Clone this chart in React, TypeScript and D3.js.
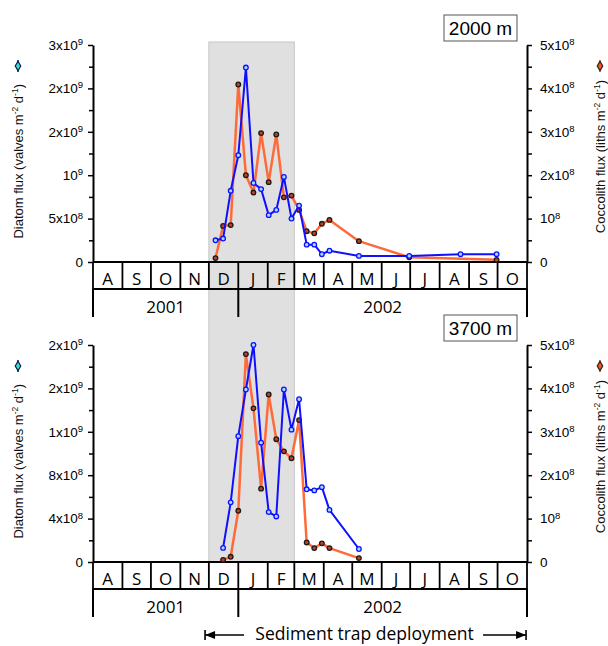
import React, { useEffect, useRef } from 'react';
import * as d3 from 'd3';

// month cells under each panel (Aug 2001 - Oct 2002)
const months = ['A', 'S', 'O', 'N', 'D', 'J', 'F', 'M', 'A', 'M', 'J', 'J', 'A', 'S', 'O'];
const years = ['2001', '2002'];

// 2000 m trap: diatoms (x10^9 valves m-2 d-1), coccoliths (x10^8 liths m-2 d-1)
const diatomDates2000 = [
  '2001-12-08', '2001-12-16', '2001-12-24', '2002-01-01', '2002-01-09', '2002-01-17', '2002-01-25',
  '2002-02-02', '2002-02-10', '2002-02-18', '2002-02-26', '2002-03-06', '2002-03-14', '2002-03-22',
  '2002-03-30', '2002-04-07', '2002-05-08', '2002-06-30', '2002-08-23', '2002-09-30',
];
const diatom2000 = [0.25, 0.27, 0.82, 1.23, 2.24, 0.91, 0.84, 0.54, 0.6, 0.98, 0.5, 0.65, 0.2, 0.2, 0.09, 0.13, 0.07, 0.07, 0.09, 0.09];
const coccoDates2000 = [
  '2001-12-08', '2001-12-16', '2001-12-24', '2002-01-01', '2002-01-09', '2002-01-17', '2002-01-25',
  '2002-02-02', '2002-02-10', '2002-02-18', '2002-02-26', '2002-03-06', '2002-03-14', '2002-03-22',
  '2002-03-30', '2002-04-07', '2002-05-08', '2002-06-30', '2002-09-30',
];
const cocco2000 = [0.09, 0.83, 0.85, 4.09, 2.0, 1.6, 2.97, 1.84, 2.94, 1.49, 1.53, 1.2, 0.71, 0.66, 0.88, 0.97, 0.48, 0.11, 0.05];

// 3700 m trap
const dates3700 = [
  '2001-12-16', '2001-12-24', '2002-01-01', '2002-01-09', '2002-01-17', '2002-01-25', '2002-02-02',
  '2002-02-10', '2002-02-18', '2002-02-26', '2002-03-06', '2002-03-14', '2002-03-22', '2002-03-30',
  '2002-04-07', '2002-05-08',
];
const diatom3700 = [0.13, 0.55, 1.16, 1.59, 2.0, 1.1, 0.46, 0.42, 1.59, 1.22, 1.5, 0.67, 0.66, 0.69, 0.48, 0.12];
const cocco3700 = [0.05, 0.12, 1.18, 4.79, 3.54, 1.69, 3.86, 2.83, 2.55, 2.39, 3.27, 0.45, 0.32, 0.43, 0.32, 0.09];

// axis ticks (same units as the series)
const leftTicks2000 = [0, 0.5, 1, 1.5, 2, 2.5];
const leftLabels2000 = ['0', '5x10^8', '10^9', '2x10^9', '2x10^9', '3x10^9'];
const leftTicks3700 = [0, 0.4, 0.8, 1.2, 1.6, 2.0];
const leftLabels3700 = ['0', '4x10^8', '8x10^8', '1x10^9', '2x10^9', '2x10^9'];
const rightTicks = [0, 1, 2, 3, 4, 5];
const rightLabels = ['0', '10^8', '2x10^8', '3x10^8', '4x10^8', '5x10^8'];

const shadeRange = ['2001-12-01', '2002-03-01'];
const deployRange = ['2001-11-27', '2002-10-31'];

const BLUE = '#1010ff';
const ORANGE = '#ff6a3a';
const AXIS_FONT = 'Liberation Sans, Arial, sans-serif';
const LABEL_FONT = 'Open Sans, sans-serif';

const App = () => {
  const ref = useRef<SVGSVGElement>(null);

  useEffect(() => {
    const svg = d3.select(ref.current);
    svg.selectAll('*').remove();

    const parse = d3.timeParse('%Y-%m-%d');
    const X0 = 93;
    const X1 = 527;
    const x = d3.scaleTime()
      .domain([parse('2001-08-01')!, parse('2002-11-01')!])
      .range([X0, X1]);
    const monthStarts = d3.timeMonth.range(parse('2001-08-01')!, parse('2002-11-02')!);
    const yearBounds = [parse('2001-08-01')!, parse('2002-01-01')!, parse('2002-11-01')!];

    // grey band for Dec-Feb, spanning both panels
    const s0 = x(parse(shadeRange[0])!);
    const s1 = x(parse(shadeRange[1])!);
    svg.append('rect')
      .attr('x', s0).attr('y', 42)
      .attr('width', s1 - s0).attr('height', 562 - 42)
      .attr('fill', '#e0e0e0')
      .attr('stroke', '#c6c6c6')
      .attr('stroke-width', 1);

    const panels = [
      {
        name: '2000 m', base: 262, top: 45, leftMax: 2.5,
        leftTicks: leftTicks2000, leftLabels: leftLabels2000,
        dDates: diatomDates2000, diatom: diatom2000,
        cDates: coccoDates2000, cocco: cocco2000,
      },
      {
        name: '3700 m', base: 562, top: 345, leftMax: 2.0,
        leftTicks: leftTicks3700, leftLabels: leftLabels3700,
        dDates: dates3700, diatom: diatom3700,
        cDates: dates3700, cocco: cocco3700,
      },
    ];

    // "5x10^8" -> "5x10" + superscript "8"
    const writeLabel = (sel, label: string) => {
      const [base, exp] = label.split('^');
      sel.text('');
      sel.append('tspan').text(base);
      if (exp) sel.append('tspan').attr('dy', '-0.5em').attr('font-size', '9.5px').text(exp);
    };

    const minorOf = (ticks: number[]) =>
      d3.range(ticks.length - 1).map(i => (ticks[i] + ticks[i + 1]) / 2);

    panels.forEach(p => {
      const g = svg.append('g');
      const yL = d3.scaleLinear().domain([0, p.leftMax]).range([p.base, p.top]);
      const yR = d3.scaleLinear().domain([0, 5]).range([p.base, p.top]);

      // left axis
      g.append('g')
        .attr('transform', `translate(${X0},0)`)
        .call(d3.axisLeft(yL).tickValues(minorOf(p.leftTicks)).tickSize(4).tickFormat(() => ''))
        .call(s => s.select('.domain').remove())
        .call(s => s.selectAll('.tick line').attr('stroke-width', 1.5));
      const axL = g.append('g')
        .attr('transform', `translate(${X0},0)`)
        .call(d3.axisLeft(yL).tickValues(p.leftTicks).tickSize(5).tickSizeOuter(0).tickPadding(5).tickFormat(() => ''));
      axL.attr('font-family', AXIS_FONT).attr('font-size', 13.5);
      axL.select('.domain').attr('stroke-width', 2);
      axL.selectAll('.tick line').attr('stroke-width', 1.5);
      axL.selectAll('.tick text').each(function (_d, i) {
        writeLabel(d3.select(this), p.leftLabels[i]);
      });

      // right axis
      g.append('g')
        .attr('transform', `translate(${X1},0)`)
        .call(d3.axisRight(yR).tickValues(minorOf(rightTicks)).tickSize(5).tickFormat(() => ''))
        .call(s => s.select('.domain').remove())
        .call(s => s.selectAll('.tick line').attr('stroke-width', 1.5));
      const axR = g.append('g')
        .attr('transform', `translate(${X1},0)`)
        .call(d3.axisRight(yR).tickValues(rightTicks).tickSize(5).tickSizeOuter(0).tickPadding(8).tickFormat(() => ''));
      axR.attr('font-family', AXIS_FONT).attr('font-size', 13.5);
      axR.select('.domain').attr('stroke-width', 2);
      axR.selectAll('.tick line').attr('stroke-width', 1.5);
      axR.selectAll('.tick text').each(function (_d, i) {
        writeLabel(d3.select(this), rightLabels[i]);
      });

      // month row
      const rowH = 27;
      [p.base, p.base + rowH].forEach(yy => {
        g.append('line')
          .attr('x1', X0).attr('x2', X1)
          .attr('y1', yy).attr('y2', yy)
          .attr('stroke', '#000').attr('stroke-width', 2);
      });
      g.selectAll('.mline')
        .data(monthStarts)
        .enter()
        .append('line')
        .attr('x1', d => x(d)).attr('x2', d => x(d))
        .attr('y1', p.base).attr('y2', p.base + rowH)
        .attr('stroke', '#000').attr('stroke-width', 1.8);
      g.selectAll('.mtext')
        .data(months)
        .enter()
        .append('text')
        .attr('x', (_d, i) => (x(monthStarts[i]) + x(monthStarts[i + 1])) / 2)
        .attr('y', p.base + 22.5)
        .attr('text-anchor', 'middle')
        .style('font-family', LABEL_FONT)
        .style('font-size', '17px')
        .text(d => d);

      // year row
      g.selectAll('.yline')
        .data(yearBounds)
        .enter()
        .append('line')
        .attr('x1', d => x(d)).attr('x2', d => x(d))
        .attr('y1', p.base + rowH).attr('y2', p.base + rowH + 28)
        .attr('stroke', '#000').attr('stroke-width', 2);
      g.selectAll('.ytext')
        .data(years)
        .enter()
        .append('text')
        .attr('x', (_d, i) => (x(yearBounds[i]) + x(yearBounds[i + 1])) / 2)
        .attr('y', p.base + rowH + 24)
        .attr('text-anchor', 'middle')
        .style('font-family', LABEL_FONT)
        .style('font-size', '17px')
        .text(d => d);

      // series: coccoliths (orange) then diatoms (blue)
      const cData = p.cDates.map((d, i) => ({ date: parse(d)!, v: p.cocco[i] }));
      const dData = p.dDates.map((d, i) => ({ date: parse(d)!, v: p.diatom[i] }));

      g.append('path')
        .datum(cData)
        .attr('fill', 'none')
        .attr('stroke', ORANGE)
        .attr('stroke-width', 2.5)
        .attr('stroke-linejoin', 'round')
        .attr('d', d3.line<any>().x(d => x(d.date)).y(d => yR(d.v)));
      g.selectAll('.cdot')
        .data(cData)
        .enter()
        .append('circle')
        .attr('cx', d => x(d.date)).attr('cy', d => yR(d.v))
        .attr('r', 2.3)
        .attr('fill', '#c04020')
        .attr('stroke', '#1a1a1a')
        .attr('stroke-width', 1.3);

      g.append('path')
        .datum(dData)
        .attr('fill', 'none')
        .attr('stroke', BLUE)
        .attr('stroke-width', 2)
        .attr('stroke-linejoin', 'round')
        .attr('d', d3.line<any>().x(d => x(d.date)).y(d => yL(d.v)));
      g.selectAll('.ddot')
        .data(dData)
        .enter()
        .append('circle')
        .attr('cx', d => x(d.date)).attr('cy', d => yL(d.v))
        .attr('r', 2.3)
        .attr('fill', '#9fdcff')
        .attr('stroke', BLUE)
        .attr('stroke-width', 1.3);

      // depth label box
      g.append('rect')
        .attr('x', 444).attr('y', p.top - 30)
        .attr('width', 73).attr('height', 26)
        .attr('fill', '#fff')
        .attr('stroke', '#555')
        .attr('stroke-width', 1);
      g.append('text')
        .attr('x', 480.5).attr('y', p.top - 10)
        .attr('text-anchor', 'middle')
        .style('font-family', AXIS_FONT)
        .style('font-size', '19px')
        .text(p.name);

      // axis titles with small legend markers
      const title = (tx: number, anchorY: number, parts: string[]) => {
        const t = g.append('text')
          .attr('transform', `translate(${tx},${anchorY}) rotate(-90)`)
          .attr('text-anchor', 'end')
          .style('font-family', AXIS_FONT)
          .style('font-size', '13px')
          .style('fill', '#111');
        parts.forEach((s, i) => {
          const sup = i % 2 === 1;
          t.append('tspan')
            .attr('dy', sup ? -5 : i > 0 ? 5 : 0)
            .style('font-size', sup ? '8.5px' : '13px')
            .text(s);
        });
      };
      title(22.5, p.top + 39, ['Diatom flux (valves m', '-2', ' d', '-1', ')']);
      title(604.5, p.top + 35, ['Coccolith flux (liths m', '-2', ' d', '-1', ')']);

      const marker = (mx: number, my: number, line: string, fill: string, stroke: string) => {
        g.append('line')
          .attr('x1', mx).attr('x2', mx)
          .attr('y1', my - 6).attr('y2', my + 6)
          .attr('stroke', line).attr('stroke-width', 1.5);
        g.append('path')
          .attr('d', d3.symbol(d3.symbolDiamond, 26)())
          .attr('transform', `translate(${mx},${my})`)
          .attr('fill', fill)
          .attr('stroke', stroke)
          .attr('stroke-width', 1.2);
      };
      marker(18, p.top + 21, BLUE, '#30e0e0', '#102030');
      marker(600, p.top + 21, ORANGE, '#ff5020', '#222');
    });

    // deployment arrow
    const d0 = x(parse(deployRange[0])!);
    const d1 = x(parse(deployRange[1])!);
    const ay = 635;
    const arrow = svg.append('g').attr('stroke', '#000').attr('stroke-width', 1.6);
    arrow.append('line').attr('x1', d0).attr('x2', d0 + 39).attr('y1', ay).attr('y2', ay);
    arrow.append('line').attr('x1', d1 - 43).attr('x2', d1).attr('y1', ay).attr('y2', ay);
    arrow.append('line').attr('x1', d0).attr('x2', d0).attr('y1', ay - 5).attr('y2', ay + 5);
    arrow.append('line').attr('x1', d1).attr('x2', d1).attr('y1', ay - 5).attr('y2', ay + 5);
    arrow.append('path')
      .attr('d', `M${d0},${ay}L${d0 + 10},${ay - 4}L${d0 + 10},${ay + 4}Z`)
      .attr('fill', '#000').attr('stroke', 'none');
    arrow.append('path')
      .attr('d', `M${d1},${ay}L${d1 - 10},${ay - 4}L${d1 - 10},${ay + 4}Z`)
      .attr('fill', '#000').attr('stroke', 'none');
    svg.append('text')
      .attr('x', (d0 + d1) / 2 - 1)
      .attr('y', ay + 5)
      .attr('text-anchor', 'middle')
      .style('font-family', LABEL_FONT)
      .style('font-size', '17.5px')
      .text('Sediment trap deployment');
  }, []);

  return (
    <svg
      ref={ref}
      width={608}
      height={646}
      style={{ position: 'absolute', left: 0, top: 0, background: '#fff' }}
    />
  );
};

export default App;
